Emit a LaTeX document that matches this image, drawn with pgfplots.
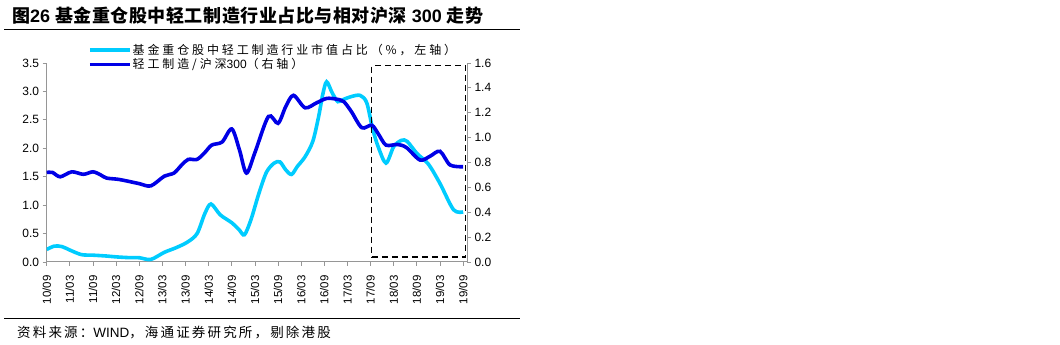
\documentclass[border=0pt]{standalone}
\usepackage{fontspec}
\setmainfont{Liberation Sans}
\newfontfamily\cjk[LetterSpace=24]{Noto Sans CJK SC}
\newfontfamily\cjkt[LetterSpace=3]{Noto Sans CJK SC}
\newfontfamily\cjks[LetterSpace=16]{Noto Sans CJK SC}
\usepackage{pgfplots}
\pgfplotsset{compat=1.18}
\definecolor{lb}{RGB}{0,204,255}
\definecolor{db}{RGB}{0,0,230}
\definecolor{axc}{RGB}{150,150,150}

\pgfplotstableread{
m v
0 0.22
2 0.28
4 0.27
6 0.21
9 0.13
12 0.12
15.5 0.105
18 0.09
21 0.078
24 0.075
27 0.045
30.5 0.17
33.5 0.25
36.5 0.35
39 0.50
41 0.85
42.6 1.02
45 0.83
48 0.69
50 0.56
51.3 0.48
53 0.75
55 1.20
57 1.58
59 1.74
60.5 1.76
62 1.62
63.5 1.54
65 1.68
67 1.85
69 2.12
70.5 2.55
71.6 2.95
72.6 3.17
74 2.98
75.5 2.82
77 2.86
79 2.91
81.3 2.93
83 2.80
84.5 2.35
86 2.02
88 1.74
90 2.03
92 2.14
93.5 2.12
96 1.91
99 1.72
102 1.38
105.5 0.92
108 0.88
}\sharetab

\pgfplotstableread{
m v
0 0.72
1.5 0.72
3.5 0.685
6.5 0.725
9.5 0.705
12 0.725
14 0.70
15.5 0.675
18.5 0.665
21 0.65
24 0.63
27 0.612
30.5 0.69
33 0.715
35 0.78
36.7 0.825
39 0.825
41 0.88
42.8 0.94
45.5 0.965
48 1.07
50 0.90
51.8 0.715
54 0.88
57.5 1.17
60 1.115
62 1.25
64 1.34
67 1.24
70 1.28
72.6 1.315
75 1.31
77 1.29
79 1.21
81.7 1.08
84.3 1.10
86 1.03
88 0.94
91 0.945
93.3 0.92
96.8 0.82
99.4 0.85
102 0.89
104.6 0.78
108 0.766
}\reltab

\begin{document}
\begin{tikzpicture}
\useasboundingbox (0,0) rectangle (1060pt,345pt);
\pgfplotsset{
  base/.style={
    scale only axis, width=420.3pt, height=199pt,
    at={(46.7pt,83pt)}, anchor=south west,
    xmin=0, xmax=109,
    axis line style={axc, line width=1pt, -},
    tick style={axc, line width=0.8pt},
    tick align=outside, major tick length=4pt,
    /pgf/number format/assume math mode=true,
    tick label style={font=\fontsize{12}{12}\selectfont},
    yticklabel style={/pgf/number format/.cd, fixed, fixed zerofill, precision=1},
  }
}
\begin{axis}[base,
  axis y line*=left, axis x line*=bottom,
  ymin=0, ymax=3.5,
  ytick={0,0.5,1,1.5,2,2.5,3,3.5},
  xtick={0,6,12,18,24,30,36,42,48,54,60,66,72,78,84,90,96,102,108},
  xticklabels={10/09,11/03,11/09,12/03,12/09,13/03,13/09,14/03,14/09,15/03,15/09,16/03,16/09,17/03,17/09,18/03,18/09,19/03,19/09},
  xticklabel style={rotate=90, anchor=east, font=\fontsize{11.5}{11.5}\selectfont},
  xticklabel shift=6pt,
]
\addplot[lb, line width=3.6pt, smooth, no markers] table[x=m,y=v] {\sharetab};
\end{axis}
\begin{axis}[base,
  axis y line*=right, axis x line=none,
  ymin=0, ymax=1.6,
  ytick={0,0.2,0.4,0.6,0.8,1.0,1.2,1.4,1.6},
  legend style={at={(0.098,1.10)}, anchor=north west, draw=none, fill=none,
    font=\fontsize{12}{12}\selectfont, row sep=0.5pt, inner sep=0pt,
    nodes={inner sep=1pt}},
  legend cell align=left,
  legend image code/.code={\draw[#1] (0pt,0pt) -- (40pt,0pt);},
]
\addlegendimage{lb, line width=3.6pt}
\addlegendentry{{\cjk 基金重仓股中轻工制造行业市值占比（\%，左轴）}}
\addplot[db, line width=3.6pt, smooth, no markers] table[x=m,y=v] {\reltab};
\addlegendentry{{\cjk 轻工制造/沪深}300{\cjk（右轴）}}
\addplot[black, line width=1.4pt, dash pattern=on 6pt off 4pt, forget plot] coordinates {(84.3,0.04) (108.6,0.04) (108.6,1.58) (84.3,1.58) (84.3,0.04)};
\end{axis}
\node[anchor=west, inner sep=0pt] at (12pt,329pt) {\fontsize{18}{18}\selectfont\bfseries{\cjkt 图}26 {\cjkt 基金重仓股中轻工制造行业占比与相对沪深} 300 {\cjkt 走势}};
\draw[black, line width=1pt] (4pt,315pt) -- (520pt,315pt);
\draw[black, line width=1pt] (4pt,26pt) -- (520pt,26pt);
\node[anchor=west, inner sep=0pt] at (17pt,12pt) {\fontsize{13.5}{13.5}\selectfont{\cjks 资料来源：}WIND{\cjks ，海通证券研究所，剔除港股}};
\end{tikzpicture}
\end{document}
